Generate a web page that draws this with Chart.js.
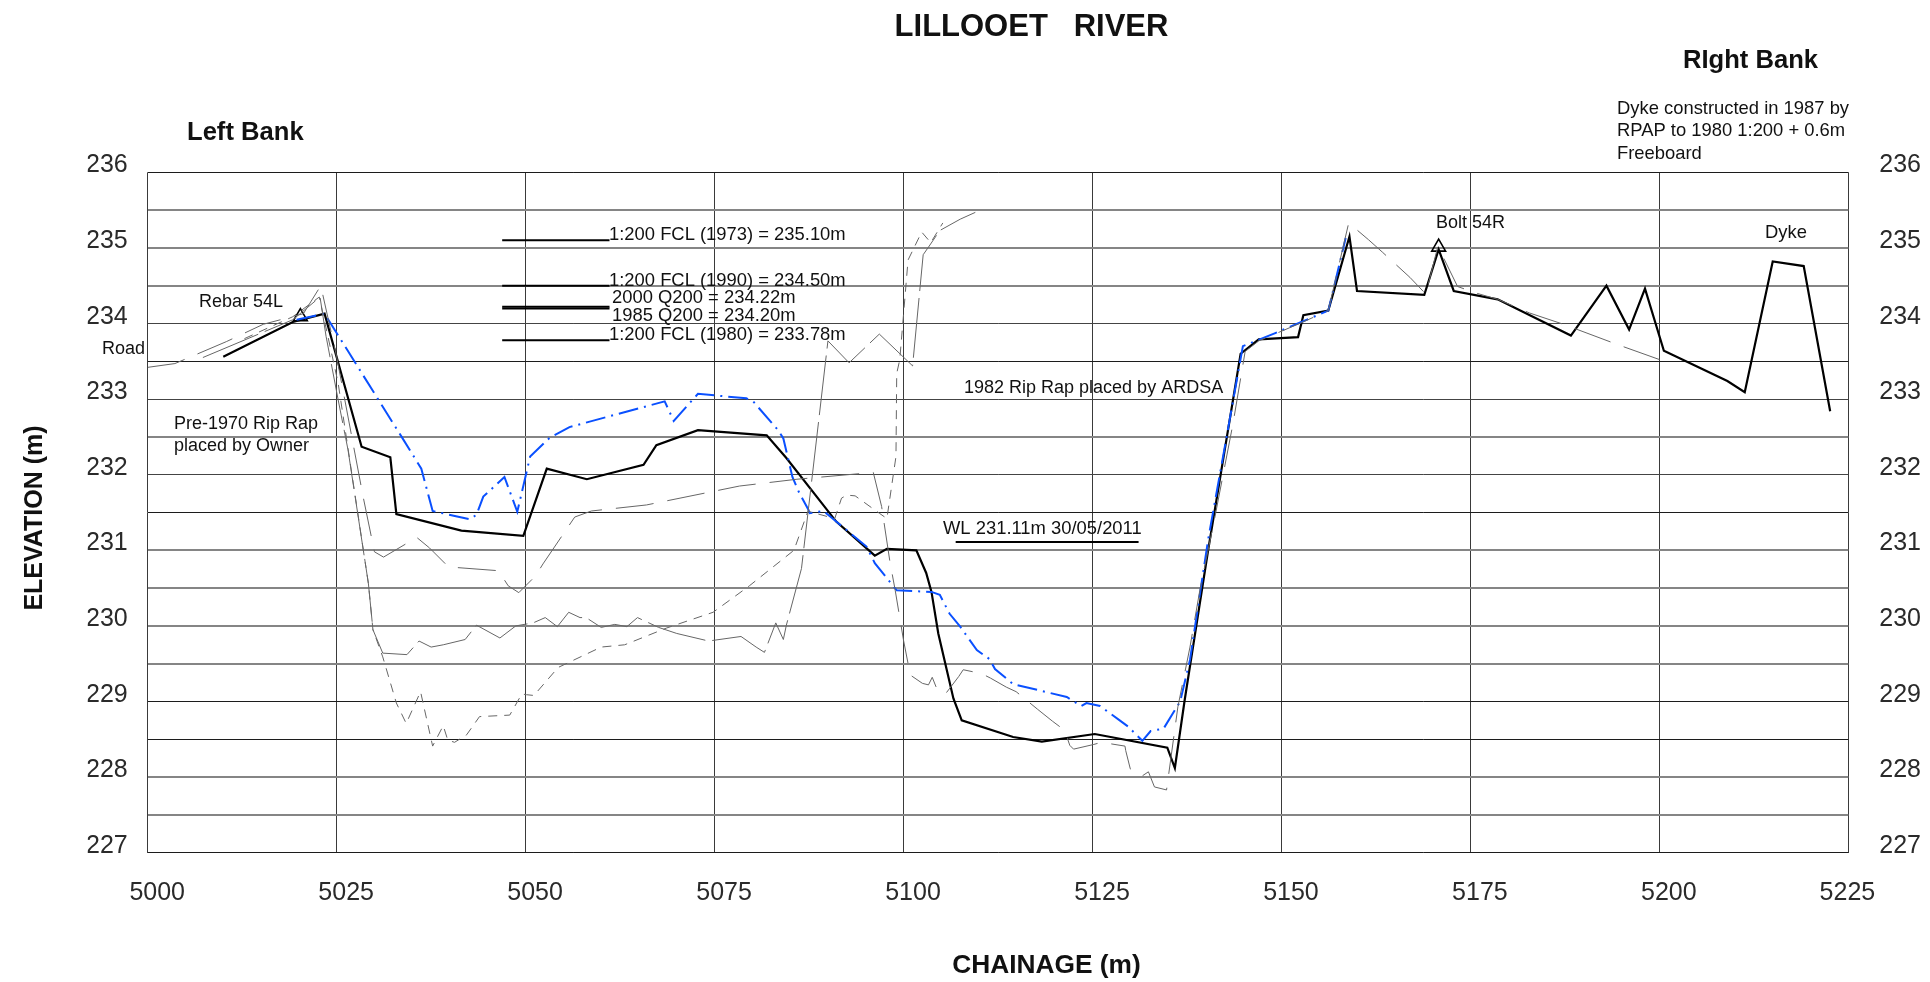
<!DOCTYPE html>
<html>
<head>
<meta charset="utf-8">
<title>Lillooet River</title>
<script src="https://cdn.jsdelivr.net/npm/chart.js@4/dist/chart.umd.min.js"></script>
<style>
  html, body { margin: 0; padding: 0; background: #fff; }
  canvas { display: block; }
</style>
</head>
<body>
<canvas id="myChart" width="1930" height="982"></canvas>
<script>
// survey lines
var surveyChainage = [5010.0, 5019.2, 5023.4, 5028.3, 5032.1, 5032.9, 5041.5, 5049.7, 5052.8, 5058.1, 5065.6, 5067.3, 5072.8, 5081.9, 5084.5, 5091.1, 5096.2, 5097.8, 5101.7, 5103.0, 5103.7, 5104.6, 5106.6, 5107.7, 5114.5, 5118.3, 5125.3, 5134.9, 5135.9, 5137.2, 5140.3, 5144.6, 5147.0, 5152.2, 5152.9, 5156.2, 5159.0, 5160.0, 5168.9, 5170.8, 5172.8, 5178.6, 5188.3, 5193.0, 5196.0, 5198.1, 5200.6, 5209.0, 5211.3, 5215.0, 5219.1, 5222.6];
var surveyElevation = [233.56, 234.02, 234.13, 232.37, 232.23, 231.48, 231.26, 231.19, 232.08, 231.94, 232.13, 232.39, 232.59, 232.52, 232.22, 231.38, 230.93, 231.02, 231.00, 230.70, 230.45, 229.90, 229.04, 228.75, 228.53, 228.47, 228.57, 228.39, 228.12, 229.02, 231.00, 233.60, 233.79, 233.82, 234.11, 234.17, 235.15, 234.43, 234.38, 234.98, 234.43, 234.32, 233.84, 234.50, 233.92, 234.46, 233.64, 233.24, 233.09, 234.82, 234.76, 232.84];

var blueChainage = [5019.7, 5023.4, 5033.6, 5036.2, 5037.7, 5042.6, 5043.5, 5044.4, 5047.2, 5048.9, 5050.6, 5053.2, 5055.8, 5068.4, 5069.6, 5072.8, 5079.2, 5080.1, 5083.4, 5084.1, 5085.3, 5086.2, 5087.4, 5087.6, 5089.4, 5091.1, 5095.1, 5096.2, 5099.1, 5103.7, 5104.8, 5106.1, 5107.5, 5109.7, 5111.4, 5112.1, 5114.5, 5121.6, 5123.5, 5124.2, 5126.0, 5128.6, 5129.7, 5131.6, 5132.7, 5134.4, 5136.6, 5137.9, 5140.3, 5144.9, 5149.1, 5152.4, 5156.2, 5158.5];
var blueElevation = [234.05, 234.13, 232.50, 232.08, 231.52, 231.41, 231.47, 231.71, 231.97, 231.51, 232.24, 232.49, 232.63, 232.97, 232.71, 233.07, 233.01, 232.97, 232.59, 232.48, 231.97, 231.76, 231.54, 231.49, 231.52, 231.38, 231.05, 230.83, 230.47, 230.45, 230.41, 230.16, 229.99, 229.68, 229.56, 229.43, 229.23, 229.06, 228.94, 228.98, 228.94, 228.75, 228.67, 228.48, 228.61, 228.64, 229.00, 229.55, 231.14, 233.70, 233.87, 234.01, 234.17, 235.13];

var grayAChainage = [5000.0, 5003.6, 5010.4, 5015.3, 5020.6, 5022.9, 5025.0, 5028.5, 5030.0, 5031.2, 5035.6, 5037.3, 5039.8, 5046.4, 5047.7, 5049.1, 5051.3, 5052.3, 5056.5, 5058.7, 5066.0, 5078.3, 5085.9, 5096.0, 5097.1, 5098.2, 5098.9, 5100.0, 5100.9, 5102.5, 5103.3, 5103.8, 5104.6, 5105.7, 5107.3, 5107.9, 5110.3, 5111.5, 5113.6, 5114.9, 5117.7, 5119.7, 5121.3, 5122.0, 5122.5, 5125.1, 5126.2, 5129.3, 5129.4, 5130.0, 5131.5, 5132.4, 5133.2, 5134.8, 5136.3, 5137.9, 5139.2, 5141.2, 5143.6, 5145.2, 5147.0, 5152.4, 5156.2, 5158.9, 5161.5, 5163.4, 5167.0, 5169.1, 5170.7, 5173.3, 5175.5, 5178.6, 5182.8, 5187.3, 5194.5, 5200.1];
var grayAElevation = [233.42, 233.47, 233.76, 233.99, 234.13, 234.50, 233.56, 231.71, 230.98, 230.91, 231.17, 231.03, 230.78, 230.73, 230.53, 230.44, 230.66, 230.82, 231.44, 231.52, 231.60, 231.85, 231.94, 232.03, 231.58, 230.85, 230.47, 229.81, 229.35, 229.24, 229.22, 229.32, 229.12, 229.12, 229.33, 229.42, 229.37, 229.31, 229.19, 229.13, 228.90, 228.74, 228.62, 228.42, 228.37, 228.43, 228.46, 228.41, 228.35, 228.11, 228.01, 228.07, 227.87, 227.83, 228.93, 229.72, 230.47, 231.44, 232.68, 233.63, 233.77, 234.00, 234.17, 235.33, 235.11, 234.94, 234.61, 234.39, 235.02, 234.49, 234.41, 234.32, 234.14, 233.99, 233.72, 233.52];

var grayBChainage = [5007.3, 5019.2, 5022.8, 5023.6, 5025.2, 5026.5, 5029.2, 5029.8, 5031.1, 5034.3, 5035.9, 5037.5, 5039.1, 5042.0, 5043.5, 5046.6, 5048.7, 5051.0, 5052.6, 5054.2, 5055.7, 5057.2, 5058.0, 5060.0, 5061.8, 5063.4, 5064.8, 5067.6, 5070.0, 5074.2, 5078.5, 5080.5, 5081.6, 5083.1, 5084.1, 5084.5, 5086.5, 5087.4, 5090.0, 5092.8, 5096.8, 5101.2, 5102.6, 5103.3, 5104.8, 5107.5, 5109.5];
var grayBElevation = [233.55, 234.05, 234.35, 233.83, 232.99, 232.33, 230.56, 229.95, 229.64, 229.62, 229.80, 229.72, 229.75, 229.82, 230.01, 229.84, 230.00, 230.04, 230.11, 229.99, 230.18, 230.11, 230.11, 229.98, 230.02, 229.99, 230.11, 229.98, 229.90, 229.80, 229.86, 229.72, 229.65, 230.04, 229.82, 230.01, 230.76, 231.53, 233.77, 233.48, 233.86, 233.44, 234.91, 235.01, 235.23, 235.38, 235.47];

var grayCChainage = [5012.8, 5019.2, 5022.7, 5025.2, 5027.6, 5029.2, 5029.8, 5031.1, 5032.9, 5034.2, 5036.1, 5037.7, 5039.1, 5039.7, 5040.6, 5042.2, 5043.9, 5047.9, 5049.5, 5050.1, 5051.1, 5054.3, 5060.0, 5063.1, 5068.6, 5074.8, 5079.6, 5085.5, 5087.4, 5087.6, 5090.9, 5091.8, 5092.5, 5093.6, 5096.8, 5097.8, 5099.0, 5099.1, 5099.5, 5100.6, 5102.4, 5103.6, 5105.2];
var grayCElevation = [233.80, 234.09, 234.35, 233.21, 231.62, 230.56, 229.95, 229.59, 228.98, 228.71, 229.13, 228.41, 228.68, 228.49, 228.46, 228.56, 228.80, 228.82, 229.10, 229.09, 229.08, 229.45, 229.72, 229.75, 229.97, 230.18, 230.53, 231.00, 231.53, 231.51, 231.42, 231.69, 231.73, 231.72, 231.49, 231.42, 232.24, 233.34, 233.52, 234.84, 235.21, 235.07, 235.33];

// flood levels and their short key lines
var keyChainage = [5046.9, 5061.1];
var fcl1973 = 235.10;
var fcl1990 = 234.50;
var q2002000 = 234.22;
var q2001985 = 234.20;
var fcl1980 = 233.78;
var waterChainage = [5106.9, 5131.1];
var waterLevel = 231.11;

// survey monuments
var markerChainage = [5020.2, 5170.8];
var markerElevation = [234.09, 235.01];

var chainageTicks = [5000, 5025, 5050, 5075, 5100, 5125, 5150, 5175, 5200, 5225];
var elevationTicks = [227, 228, 229, 230, 231, 232, 233, 234, 235, 236];

function points(xs, ys) {
  return xs.map(function (x, i) { return { x: x, y: ys[i] }; });
}
function level(xs, y) {
  return xs.map(function (x) { return { x: x, y: y }; });
}

var FONT = '"Liberation Sans", Arial, sans-serif';

// gridlines in the original are not all the same weight
var crispLevels = [236, 233.5, 231.5, 229, 228.5, 227];
var darkLevels = [234, 233, 232];

function gridColor(ctx) {
  var v = ctx.tick.value;
  if (crispLevels.indexOf(v) >= 0) return '#1c1c1c';
  if (darkLevels.indexOf(v) >= 0) return '#444';
  return '#858585';
}
function gridWidth(ctx) {
  var v = ctx.tick.value;
  return (crispLevels.indexOf(v) >= 0 || darkLevels.indexOf(v) >= 0) ? 1 : 2;
}

function sameLine(chart, text, x, y, font, align) {
  var c = chart.ctx;
  c.font = font;
  c.fillStyle = '#111';
  c.textAlign = align || 'left';
  c.textBaseline = 'middle';
  c.fillText(text, x, y);
}

var notesPlugin = {
  id: 'notes',
  afterDraw: function (chart) {
    var c = chart.ctx;
    c.save();
    var big = 'bold 31px ' + FONT;
    var head = 'bold 25.6px ' + FONT;
    var note = '18px ' + FONT;
    var wide = '18.4px ' + FONT;
    sameLine(chart, 'LILLOOET   RIVER', 1031.5, 27, big, 'center');
    sameLine(chart, 'Left Bank', 187, 133, head);
    sameLine(chart, 'RIght Bank', 1683, 61, head);
    sameLine(chart, 'CHAINAGE (m)', 1046.5, 966, 'bold 26.3px ' + FONT, 'center');

    c.save();
    c.translate(35, 518);
    c.rotate(-Math.PI / 2);
    sameLine(chart, 'ELEVATION (m)', 0, 0, 'bold 25px ' + FONT, 'center');
    c.restore();

    sameLine(chart, 'Dyke constructed in 1987 by', 1617, 108.5, wide);
    sameLine(chart, 'RPAP to 1980 1:200 + 0.6m', 1617, 130.5, wide);
    sameLine(chart, 'Freeboard', 1617, 154, wide);
    sameLine(chart, 'Rebar 54L', 199, 302.5, note);
    sameLine(chart, 'Road', 102, 349, note);
    sameLine(chart, 'Pre-1970 Rip Rap', 174, 424, note);
    sameLine(chart, 'placed by Owner', 174, 446, note);
    sameLine(chart, '1:200 FCL (1973) = 235.10m', 609, 235, wide);
    sameLine(chart, '1:200 FCL (1990) = 234.50m', 609, 281, wide);
    sameLine(chart, '2000 Q200 = 234.22m', 612, 298, wide);
    sameLine(chart, '1985 Q200 = 234.20m', 612, 316, wide);
    sameLine(chart, '1:200 FCL (1980) = 233.78m', 609, 334.5, wide);
    sameLine(chart, '1982 Rip Rap placed by ARDSA', 964, 388, note);
    sameLine(chart, 'WL 231.11m 30/05/2011', 943, 529, wide);
    sameLine(chart, 'Bolt 54R', 1436, 223, note);
    sameLine(chart, 'Dyke', 1765, 232.5, wide);
    c.restore();
  }
};

function grayLine(xs, ys, dash) {
  return {
    data: points(xs, ys),
    borderColor: '#666',
    borderWidth: 1,
    borderDash: dash,
    pointRadius: 0,
    tension: 0
  };
}
function keyLine(xs, y, width) {
  return {
    data: level(xs, y),
    borderColor: '#000',
    borderWidth: width,
    pointRadius: 0,
    tension: 0
  };
}

var ctx = document.getElementById('myChart').getContext('2d');
var myChart = new Chart(ctx, {
  type: 'line',
  data: {
    datasets: [
      grayLine(grayAChainage, grayAElevation, [38, 14]),
      grayLine(grayBChainage, grayBElevation, [60, 7]),
      grayLine(grayCChainage, grayCElevation, [9, 7]),
      {
        data: points(blueChainage, blueElevation),
        borderColor: '#0a50ff',
        borderWidth: 2,
        borderDash: [20, 6, 2, 6],
        pointRadius: 0,
        tension: 0
      },
      {
        data: points(surveyChainage, surveyElevation),
        borderColor: '#000',
        borderWidth: 2.2,
        pointRadius: 0,
        tension: 0
      },
      keyLine(keyChainage, fcl1973, 2),
      keyLine(keyChainage, fcl1990, 2),
      keyLine(keyChainage, q2002000, 2),
      keyLine(keyChainage, q2001985, 2),
      keyLine(keyChainage, fcl1980, 2),
      keyLine(waterChainage, waterLevel, 2.2),
      {
        data: points(markerChainage, markerElevation),
        showLine: false,
        pointStyle: 'triangle',
        pointRadius: 8,
        pointBorderWidth: 1.6,
        pointBorderColor: '#000',
        pointBackgroundColor: 'rgba(0,0,0,0)'
      }
    ]
  },
  options: {
    responsive: false,
    animation: false,
    devicePixelRatio: 1,
    layout: { padding: { left: 87.7, right: 0, top: 172.3, bottom: 69.3 } },
    plugins: { legend: { display: false }, title: { display: false }, tooltip: { enabled: false } },
    scales: {
      x: {
        type: 'linear',
        min: 5000,
        max: 5225,
        afterFit: function (s) { s.height = 60; },
        afterBuildTicks: function (s) { s.ticks = chainageTicks.map(function (v) { return { value: v }; }); },
        grid: { color: '#3a3a3a', lineWidth: 1, drawTicks: false },
        border: { display: false },
        ticks: {
          autoSkip: false,
          maxRotation: 0,
          padding: 25,
          labelOffset: 9.5,
          color: '#2a2a2a',
          font: { family: FONT, size: 25 },
          // last label sits on its line, not beside it: trailing spaces pull it back
          callback: function (v) { return v === 5225 ? v + '   ' : String(v); }
        }
      },
      y: {
        type: 'linear',
        position: 'left',
        min: 227,
        max: 236,
        afterFit: function (s) { s.width = 60; },
        grid: { color: gridColor, lineWidth: gridWidth, drawTicks: false },
        border: { display: false },
        ticks: {
          stepSize: 0.5,
          autoSkip: false,
          padding: 20,
          labelOffset: -6.7,
          color: '#2a2a2a',
          font: { family: FONT, size: 25 },
          callback: function (v) { return elevationTicks.indexOf(v) >= 0 ? String(v) : ''; }
        }
      },
      yRight: {
        type: 'linear',
        position: 'right',
        min: 227,
        max: 236,
        afterFit: function (s) { s.width = 81.7; },
        grid: { display: false, drawTicks: false },
        border: { display: false },
        ticks: {
          stepSize: 1,
          padding: 31,
          labelOffset: -6.7,
          color: '#2a2a2a',
          font: { family: FONT, size: 25 },
          callback: function (v) { return String(v); }
        }
      }
    }
  },
  plugins: [notesPlugin]
});
</script>
</body>
</html>
